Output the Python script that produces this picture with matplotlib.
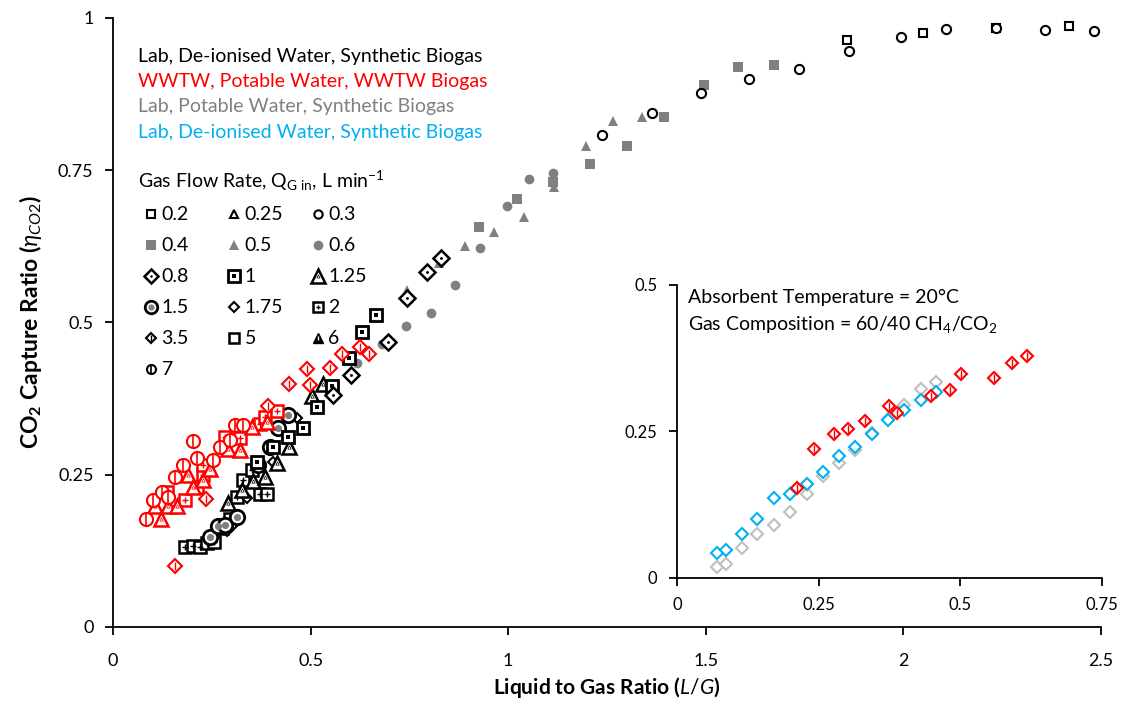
import matplotlib.pyplot as plt
from matplotlib.ticker import FormatStrFormatter

plt.rcParams['font.family'] = ['Lato', 'DejaVu Sans']
plt.rcParams['mathtext.fontset'] = 'custom'
plt.rcParams['mathtext.rm'] = 'Lato'
plt.rcParams['mathtext.it'] = 'Lato:italic'
plt.rcParams['mathtext.bf'] = 'Lato:bold'

BLACK = 'black'
RED = '#ff0000'
GREY = '#808080'
LIGHT = '#bfbfbf'
BLUE = '#00b0f0'

# ---- Lab, De-ionised Water, Synthetic Biogas (black) ----
lab_q02_x = [1.857, 2.050, 2.234, 2.419]
lab_q02_y = [0.964, 0.975, 0.983, 0.987]
lab_q03_x = [1.237, 1.364, 1.487, 1.609, 1.735, 1.862, 1.994, 2.108, 2.234, 2.358, 2.482]
lab_q03_y = [0.808, 0.844, 0.877, 0.900, 0.916, 0.946, 0.968, 0.982, 0.983, 0.980, 0.979]
lab_q08_x = [0.556, 0.602, 0.697, 0.745, 0.794, 0.830]
lab_q08_y = [0.381, 0.413, 0.468, 0.540, 0.583, 0.606]
lab_q1_x = [0.364, 0.406, 0.444, 0.482, 0.515, 0.553, 0.596, 0.629, 0.665]
lab_q1_y = [0.271, 0.296, 0.312, 0.326, 0.361, 0.395, 0.441, 0.484, 0.513]
lab_q125_x = [0.292, 0.326, 0.355, 0.385, 0.414, 0.445, 0.503, 0.531]
lab_q125_y = [0.203, 0.225, 0.239, 0.246, 0.270, 0.296, 0.380, 0.399]
lab_q15_x = [0.245, 0.267, 0.283, 0.313, 0.368, 0.397, 0.418, 0.444]
lab_q15_y = [0.148, 0.165, 0.167, 0.181, 0.266, 0.296, 0.326, 0.348]
lab_q175_x = [0.300, 0.338, 0.406, 0.465]
lab_q175_y = [0.165, 0.211, 0.271, 0.343]
lab_q2_x = [0.182, 0.202, 0.220, 0.239, 0.256, 0.275, 0.296, 0.313, 0.330, 0.351, 0.372, 0.389]
lab_q2_y = [0.131, 0.133, 0.132, 0.138, 0.140, 0.162, 0.178, 0.214, 0.241, 0.258, 0.218, 0.218]
lab_q35_x = [0.289]
lab_q35_y = [0.159]

# ---- WWTW, Potable Water, WWTW Biogas (red) ----
wwtw_circ_x = [0.083, 0.101, 0.123, 0.140, 0.157, 0.178, 0.203, 0.212, 0.254, 0.271, 0.296, 0.309, 0.330]
wwtw_circ_y = [0.178, 0.209, 0.222, 0.214, 0.246, 0.266, 0.305, 0.277, 0.274, 0.296, 0.307, 0.332, 0.332]
wwtw_tri_x = [0.106, 0.121, 0.140, 0.161, 0.191, 0.203, 0.228, 0.245, 0.292, 0.321, 0.351, 0.389]
wwtw_tri_y = [0.199, 0.178, 0.198, 0.198, 0.250, 0.230, 0.241, 0.260, 0.293, 0.291, 0.329, 0.337]
wwtw_sq_x = [0.136, 0.182, 0.212, 0.229, 0.229, 0.283, 0.321, 0.372, 0.385, 0.414]
wwtw_sq_y = [0.222, 0.209, 0.230, 0.250, 0.266, 0.312, 0.310, 0.334, 0.345, 0.354]
wwtw_dia_x = [0.157, 0.235, 0.393, 0.446, 0.490, 0.498, 0.549, 0.580, 0.625, 0.648]
wwtw_dia_y = [0.100, 0.210, 0.363, 0.399, 0.423, 0.397, 0.426, 0.448, 0.460, 0.448]

# ---- Lab, Potable Water, Synthetic Biogas (grey) ----
pot_q04_x = [0.927, 1.023, 1.114, 1.207, 1.301, 1.395, 1.495, 1.581, 1.673]
pot_q04_y = [0.657, 0.702, 0.731, 0.761, 0.790, 0.838, 0.890, 0.920, 0.923]
pot_q05_x = [0.744, 0.825, 0.892, 0.965, 1.040, 1.116, 1.197, 1.264, 1.338]
pot_q05_y = [0.553, 0.598, 0.626, 0.649, 0.673, 0.723, 0.789, 0.831, 0.837]
pot_q06_x = [0.618, 0.680, 0.741, 0.804, 0.865, 0.929, 0.996, 1.053, 1.114]
pot_q06_y = [0.433, 0.465, 0.495, 0.515, 0.562, 0.622, 0.692, 0.735, 0.745]

# ---- inset, 20 C, 60/40 CH4/CO2 ----
ins_blue_x = [0.071, 0.086, 0.114, 0.142, 0.172, 0.200, 0.229, 0.257, 0.286, 0.315, 0.344, 0.372, 0.401, 0.430, 0.457]
ins_blue_y = [0.043, 0.047, 0.075, 0.101, 0.136, 0.143, 0.160, 0.181, 0.209, 0.224, 0.246, 0.270, 0.286, 0.304, 0.317]
ins_grey_x = [0.071, 0.086, 0.114, 0.142, 0.172, 0.200, 0.229, 0.257, 0.286, 0.315, 0.344, 0.372, 0.401, 0.430, 0.457]
ins_grey_y = [0.018, 0.024, 0.052, 0.075, 0.090, 0.113, 0.143, 0.174, 0.196, 0.218, 0.248, 0.271, 0.295, 0.322, 0.334]
ins_red_x = [0.211, 0.242, 0.277, 0.302, 0.331, 0.374, 0.389, 0.448, 0.482, 0.501, 0.559, 0.592, 0.618]
ins_red_y = [0.154, 0.220, 0.245, 0.255, 0.268, 0.294, 0.282, 0.311, 0.321, 0.348, 0.342, 0.367, 0.378]

series_labels = ['Lab, De-ionised Water, Synthetic Biogas', 'WWTW, Potable Water, WWTW Biogas',
                 'Lab, Potable Water, Synthetic Biogas', 'Lab, De-ionised Water, Synthetic Biogas']
series_colors = [BLACK, RED, GREY, BLUE]
flow_labels = ['0.2', '0.25', '0.3', '0.4', '0.5', '0.6', '0.8', '1', '1.25',
               '1.5', '1.75', '2', '3.5', '5', '6', '7']

# composite marker layers: (marker, size, face, edge, edge width); 'c' = series colour
STYLES = {
    '0.2': [('s', 5.5, 'w', 'c', 1.5)],
    '0.25': [('^', 6, 'w', 'c', 1.5)],
    '0.3': [('o', 6, 'w', 'c', 1.5)],
    '0.4': [('s', 6.5, 'c', 'c', 0)],
    '0.5': [('^', 7, 'c', 'c', 0)],
    '0.6': [('o', 7, 'c', 'c', 0)],
    '0.8': [('D', 7.5, 'w', 'c', 1.8), ('o', 1.8, 'c', 'c', 0)],
    '1': [('s', 8, 'w', 'c', 2), ('s', 2.5, 'c', 'c', 0)],
    '1.25': [('^', 9.5, 'w', 'c', 1.8), ('^', 2.2, 'w', 'c', 0.5)],
    '1.5': [('o', 9, 'w', 'c', 2), ('o', 4.5, GREY, GREY, 0)],
    '1.75': [('D', 5, 'w', 'c', 1.5)],
    '2': [('s', 6.5, 'w', 'c', 1.8), ('+', 3, 'c', 'c', 1)],
    '3.5': [('D', 5.5, 'w', 'c', 1.5), ('|', 4.5, 'c', 'c', 1)],
    '5': [('s', 7, 'w', 'c', 1.8)],
    '6': [('^', 7.5, 'c', 'c', 1), ('|', 3, 'white', 'white', 1)],
    '7': [('o', 6.5, 'w', 'c', 1.5), ('|', 6, 'c', 'c', 1.2)],
}


def draw(ax, x, y, style, color, scale=1.0, **kw):
    for m, ms, fc, ec, mew in STYLES[style]:
        fc = {'w': 'white', 'c': color}.get(fc, fc)
        ec = {'w': 'white', 'c': color}.get(ec, ec)
        ax.plot(x, y, ls='none', marker=m, ms=ms * scale, mfc=fc, mec=ec,
                mew=mew, clip_on=False, **kw)


fig = plt.figure(figsize=(11.23, 7.04), dpi=100)
ax = fig.add_axes([0.1006, 0.1094, 0.8798, 0.8651])

# grey first, then black, then red on top
draw(ax, pot_q06_x, pot_q06_y, '0.6', GREY)
draw(ax, pot_q05_x, pot_q05_y, '0.5', GREY)
draw(ax, pot_q04_x, pot_q04_y, '0.4', GREY)

draw(ax, lab_q02_x, lab_q02_y, '0.2', BLACK, 1.1)
draw(ax, lab_q03_x, lab_q03_y, '0.3', BLACK, 1.1)
draw(ax, lab_q2_x, lab_q2_y, '2', BLACK, 1.25)
draw(ax, lab_q175_x, lab_q175_y, '1.75', BLACK, 1.1)
draw(ax, lab_q35_x, lab_q35_y, '3.5', BLACK, 1.1)
draw(ax, lab_q15_x, lab_q15_y, '1.5', BLACK, 1.15)
draw(ax, lab_q125_x, lab_q125_y, '1.25', BLACK, 1.1)
draw(ax, lab_q1_x, lab_q1_y, '1', BLACK, 1.15)
draw(ax, lab_q08_x, lab_q08_y, '0.8', BLACK, 1.15)

draw(ax, wwtw_sq_x, wwtw_sq_y, '2', RED, 1.4)
draw(ax, wwtw_tri_x, wwtw_tri_y, '1.25', RED, 1.1)
draw(ax, wwtw_circ_x, wwtw_circ_y, '7', RED, 1.45)
draw(ax, wwtw_dia_x, wwtw_dia_y, '3.5', RED, 1.35)

ax.set_xlim(0, 2.5)
ax.set_ylim(0, 1)
ax.set_xticks([0, 0.5, 1, 1.5, 2, 2.5])
ax.set_yticks([0, 0.25, 0.5, 0.75, 1])
ax.xaxis.set_major_formatter(FormatStrFormatter('%g'))
ax.yaxis.set_major_formatter(FormatStrFormatter('%g'))
for s in ['top', 'right']:
    ax.spines[s].set_visible(False)
for s in ['left', 'bottom']:
    ax.spines[s].set_linewidth(1.3)
ax.tick_params(labelsize=13, length=6, width=1.3, pad=8)
ax.tick_params(axis='x', pad=13)
ax.set_xlabel('Liquid to Gas Ratio ($\\mathit{L/G}$)', fontsize=15, fontweight='bold', labelpad=4)
ax.set_ylabel('CO$_{\\mathbf{2}}$ Capture Ratio ($\\mathit{\\eta}_{\\mathit{CO2}}$)', fontsize=16.5,
              fontweight='bold', labelpad=10)

# series colour key
for i, (lab, col) in enumerate(zip(series_labels, series_colors)):
    ax.text(0.0253, 0.937 - i * 0.0415, lab, color=col, fontsize=14,
            transform=ax.transAxes, va='center')

# flow-rate key, three columns read row-wise
ax.text(0.0253, 0.732, 'Gas Flow Rate, Q$_{\\mathrm{G\\ in}}$, L min$^{\\mathrm{-1}}$', fontsize=14,
        transform=ax.transAxes, va='center')
col_x = [0.0387, 0.123, 0.2075]
for k, lab in enumerate(flow_labels):
    r, c = divmod(k, 3)
    yy = 0.678 - r * 0.051
    col = GREY if lab in ('0.4', '0.5', '0.6') else BLACK
    draw(ax, [col_x[c]], [yy], lab, col, transform=ax.transAxes)
    ax.text(col_x[c] + 0.0105, yy, lab, fontsize=14, transform=ax.transAxes, va='center')

# inset
ins = fig.add_axes([0.6028, 0.179, 0.3785, 0.4162])
draw(ins, ins_grey_x, ins_grey_y, '1.75', LIGHT, 1.25)
draw(ins, ins_blue_x, ins_blue_y, '1.75', BLUE, 1.25)
draw(ins, ins_red_x, ins_red_y, '3.5', RED, 1.15)
ins.set_xlim(0, 0.75)
ins.set_ylim(0, 0.5)
ins.set_xticks([0, 0.25, 0.5, 0.75])
ins.set_yticks([0, 0.25, 0.5])
ins.xaxis.set_major_formatter(FormatStrFormatter('%g'))
ins.yaxis.set_major_formatter(FormatStrFormatter('%g'))
for s in ['top', 'right']:
    ins.spines[s].set_visible(False)
for s in ['left', 'bottom']:
    ins.spines[s].set_linewidth(1.3)
ins.tick_params(labelsize=12, length=6, width=1.3, pad=8)
ins.text(0.026, 0.959, 'Absorbent Temperature = 20\u00b0C', fontsize=14, transform=ins.transAxes, va='center')
ins.text(0.026, 0.865, 'Gas Composition = 60/40 CH$_{\\mathrm{4}}$/CO$_{\\mathrm{2}}$', fontsize=14,
         transform=ins.transAxes, va='center')

fig.savefig('out.png', dpi=100)
